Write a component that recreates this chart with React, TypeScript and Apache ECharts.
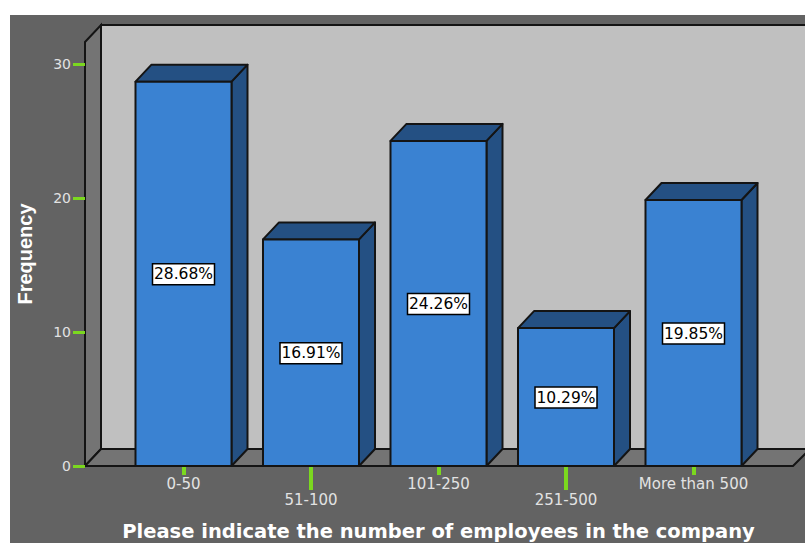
import React, { useEffect, useRef } from "react";
import * as echarts from "echarts";

// Company size bands and their shares, in percent
const categories = ["0-50", "51-100", "101-250", "251-500", "More than 500"];
const shares = [28.68, 16.91, 24.26, 10.29, 19.85];
const yTicks = { min: 0, max: 30, interval: 10 };

const xTitle = "Please indicate the number of employees in the company";
const yTitle = "Frequency";

const PANEL = "#636363";
const WALL = "#c0c0c0";
const SIDE = "#747474";
const FRONT = "#3a82d2";
const SHADE = "#245083";
const EDGE = "#141414";
const TICK = "#7bd81f";
const LABEL = "#e2e2e2";

const DEPTH_X = 16;
const DEPTH_Y = 17;
const FONT = "'DejaVu Sans', sans-serif";

// Draws one extruded bar with its boxed percentage label
function renderBar(_params: any, api: any) {
  const value = api.value(1);
  const [cx, top] = api.coord([api.value(0), value]);
  const [, base] = api.coord([api.value(0), 0]);
  const width = api.size([1, 0])[0] * 0.753;
  const l = cx - width / 2;
  const r = cx + width / 2;
  const edge = { stroke: EDGE, lineWidth: 2, lineJoin: "round" };
  const midY = (top + base) / 2;
  return {
    type: "group",
    children: [
      {
        type: "polygon",
        shape: { points: [[r, top], [r + DEPTH_X, top - DEPTH_Y], [r + DEPTH_X, base - DEPTH_Y], [r, base]] },
        style: { fill: SHADE, ...edge },
      },
      {
        type: "polygon",
        shape: { points: [[l, top], [l + DEPTH_X, top - DEPTH_Y], [r + DEPTH_X, top - DEPTH_Y], [r, top]] },
        style: { fill: SHADE, ...edge },
      },
      {
        type: "rect",
        shape: { x: l, y: top, width: r - l, height: base - top },
        style: { fill: FRONT, ...edge },
      },
      {
        type: "rect",
        shape: { x: cx - 31, y: midY - 10, width: 62, height: 21 },
        style: { fill: "#ffffff", stroke: "#000000", lineWidth: 1.5 },
      },
      {
        type: "text",
        style: {
          x: cx,
          y: midY + 0.5,
          text: value.toFixed(2) + "%",
          fill: "#000000",
          font: `15.5px ${FONT}`,
          align: "center",
          verticalAlign: "middle",
        },
      },
    ],
  };
}

export default function App() {
  const ref = useRef<HTMLDivElement>(null);

  useEffect(() => {
    const chart = echarts.init(ref.current!, undefined, { renderer: "svg" });
    const xAxisBase = {
      type: "category" as const,
      data: categories,
      position: "bottom" as const,
      axisLine: { show: false },
      splitLine: { show: false },
    };
    chart.setOption({
      animation: false,
      backgroundColor: "#ffffff",
      grid: { left: 119.75, right: 47.75, top: 64, bottom: 77, outerBoundsMode: "none" },
      graphic: [
        { type: "rect", z: -10, shape: { x: 10, y: 15, width: 795, height: 528 }, style: { fill: PANEL } },
        {
          type: "rect",
          z: -9,
          shape: { x: 101, y: 25, width: 720, height: 424 },
          style: { fill: WALL, stroke: EDGE, lineWidth: 2 },
        },
        {
          type: "polygon",
          z: -8,
          shape: { points: [[85, 42], [101, 25], [101, 449], [85, 466]] },
          style: { fill: SIDE, stroke: EDGE, lineWidth: 2 },
        },
        {
          type: "polygon",
          z: -8,
          shape: { points: [[85, 466], [101, 449], [810, 449], [793, 466]] },
          style: { fill: SIDE, stroke: EDGE, lineWidth: 2 },
        },
      ],
      xAxis: [
        {
          ...xAxisBase,
          name: xTitle,
          nameLocation: "middle",
          nameGap: 55,
          nameTextStyle: { color: "#ffffff", fontFamily: FONT, fontWeight: "bold", fontSize: 19.5 },
          axisTick: {
            show: true,
            alignWithLabel: true,
            length: 9,
            interval: (i: number) => i % 2 === 0,
            lineStyle: { color: TICK, width: 4 },
          },
          axisLabel: {
            interval: (i: number) => i % 2 === 0,
            color: LABEL,
            fontFamily: FONT,
            fontSize: 15,
            margin: 10,
          },
        },
        {
          ...xAxisBase,
          axisTick: {
            show: true,
            alignWithLabel: true,
            length: 24,
            interval: (i: number) => i % 2 === 1,
            lineStyle: { color: TICK, width: 4 },
          },
          axisLabel: {
            interval: (i: number) => i % 2 === 1,
            color: LABEL,
            fontFamily: FONT,
            fontSize: 15,
            margin: 26,
          },
        },
      ],
      yAxis: {
        type: "value",
        ...yTicks,
        offset: 34.75,
        name: yTitle,
        nameLocation: "middle",
        nameGap: 50,
        nameTextStyle: {
          color: "#ffffff",
          fontFamily: "'Liberation Sans', sans-serif",
          fontWeight: "bold",
          fontSize: 20,
          padding: [0, 0, 0, 22],
        },
        axisLine: { show: false },
        splitLine: { show: false },
        axisTick: { show: true, length: 12, lineStyle: { color: TICK, width: 3 } },
        axisLabel: { color: LABEL, fontFamily: FONT, fontSize: 14, margin: 14 },
      },
      series: [
        {
          type: "custom",
          xAxisIndex: 0,
          clip: false,
          renderItem: renderBar,
          encode: { x: 0, y: 1 },
          data: categories.map((_, i) => [i, shares[i]]),
        },
      ],
    });
    return () => chart.dispose();
  }, []);

  return <div ref={ref} style={{ position: "absolute", left: 0, top: 0, width: 805, height: 543 }} />;
}
